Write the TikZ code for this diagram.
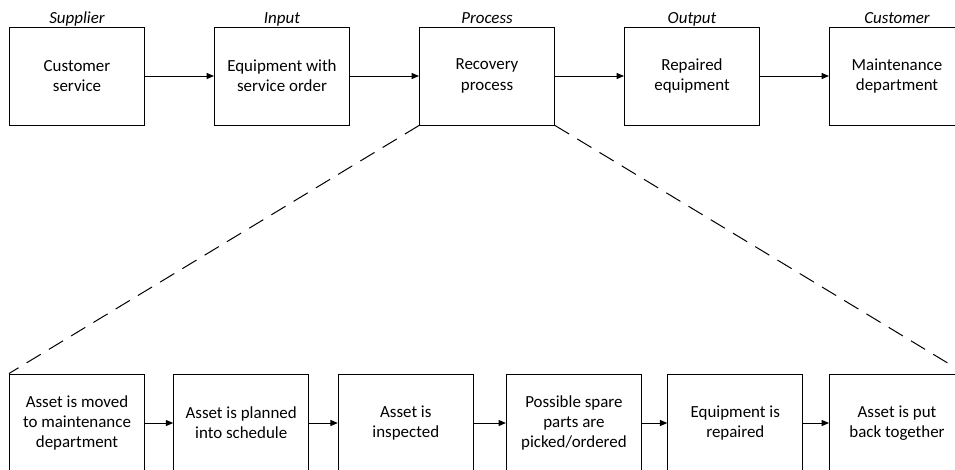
\documentclass[tikz,border=0pt]{standalone}
\usepackage{fontspec}
\setmainfont{Carlito}
\usetikzlibrary{arrows.meta}
\begin{document}
\begin{tikzpicture}[x=0.75pt,y=-0.75pt,
  boxnode/.style={draw, line width=0.75pt, minimum width=101.25pt, minimum height=73.5pt,
    inner sep=0pt, align=center, font=\fontsize{12.7}{15.2}\selectfont},
  rolelabel/.style={anchor=base, inner sep=0pt, font=\fontsize{12.7}{15.2}\selectfont\itshape},
  flow/.style={line width=0.75pt, -{Triangle[length=5.5pt,width=4.5pt]}},
  zoomline/.style={line width=0.75pt, dash pattern=on 12.4pt off 7.1pt}]
\useasboundingbox (0,0) rectangle (955,469);
\clip (0,0) rectangle (955,469);

% SIPOC row
\node[boxnode] (sup)  at (77,76)  {Customer\\service};
\node[boxnode] (inp)  at (282,76) {Equipment with\\service order};
\node[boxnode] (proc) at (487,76) {Recovery\\process};
\node[boxnode] (outp) at (692,76) {Repaired\\equipment};
\node[boxnode] (cust) at (897,76) {Maintenance\\department};

\node[rolelabel] (lsup)  at (77,23.5)  {Supplier};
\node[rolelabel] (linp)  at (282,23.5) {Input};
\node[rolelabel] (lproc) at (487,23.5) {Process};
\node[rolelabel] (loutp) at (692,23.5) {Output};
\node[rolelabel] (lcust) at (897,23.5) {Customer};

\draw[flow] (sup) -- (inp);
\draw[flow] (inp) -- (proc);
\draw[flow] (proc) -- (outp);
\draw[flow] (outp) -- (cust);

% Recovery process steps
\node[boxnode] (s1) at (77,423)    {Asset is moved\\to maintenance\\department};
\node[boxnode] (s2) at (241.2,423) {Asset is planned\\into schedule};
\node[boxnode] (s3) at (405.8,423) {Asset is\\inspected};
\node[boxnode] (s4) at (573.9,423) {Possible spare\\parts are\\picked/ordered};
\node[boxnode] (s5) at (735.3,423) {Equipment is\\repaired};
\node[boxnode] (s6) at (897,423)   {Asset is put\\back together};

\draw[flow] (s1) -- (s2);
\draw[flow] (s2) -- (s3);
\draw[flow] (s3) -- (s4);
\draw[flow] (s4) -- (s5);
\draw[flow] (s5) -- (s6);

% Expansion of the process box
\draw[zoomline] (proc.south west) -- (s1.north west);
\draw[zoomline] (proc.south east) -- (s6.north east);
\end{tikzpicture}
\end{document}
